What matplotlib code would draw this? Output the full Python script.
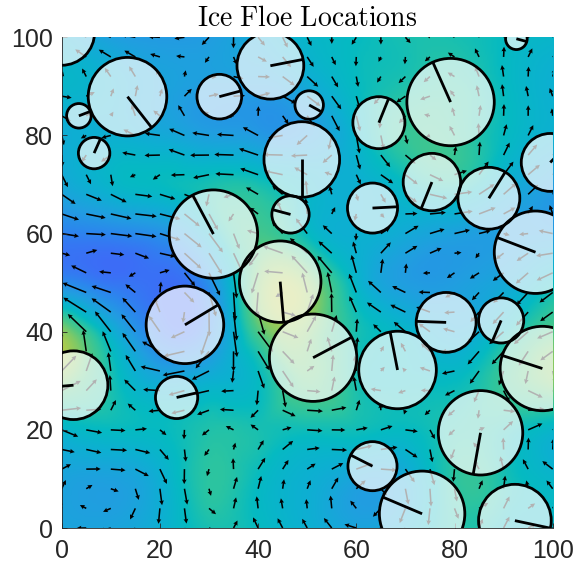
import numpy as np
import matplotlib
matplotlib.use('Agg')
import matplotlib.pyplot as plt
import matplotlib.tri as mtri
from matplotlib.colors import LinearSegmentedColormap
from matplotlib.patches import Circle

# ocean field on a 10 unit grid (rows: y = 0..100)
grid_x = np.arange(0, 101, 10)
grid_y = np.arange(0, 101, 10)
field = np.array([
    [0.35, 0.35, 0.45, 0.60, 0.55, 0.45, 0.35, 0.45, 0.62, 0.55, 0.50],
    [0.35, 0.33, 0.45, 0.65, 0.55, 0.45, 0.35, 0.40, 0.65, 0.60, 0.50],
    [0.50, 0.55, 0.55, 0.62, 0.60, 0.58, 0.58, 0.55, 0.62, 0.60, 0.50],
    [0.85, 0.60, 0.40, 0.45, 0.55, 0.78, 0.60, 0.55, 0.55, 0.70, 0.85],
    [0.88, 0.45, 0.08, 0.18, 0.75, 0.85, 0.60, 0.50, 0.40, 0.55, 0.75],
    [0.18, 0.06, 0.02, 0.22, 0.85, 0.88, 0.50, 0.30, 0.30, 0.38, 0.55],
    [0.12, 0.15, 0.22, 0.50, 0.72, 0.55, 0.45, 0.40, 0.33, 0.30, 0.30],
    [0.38, 0.50, 0.55, 0.60, 0.60, 0.50, 0.45, 0.55, 0.62, 0.45, 0.30],
    [0.42, 0.45, 0.40, 0.32, 0.28, 0.30, 0.50, 0.68, 0.68, 0.55, 0.45],
    [0.50, 0.45, 0.35, 0.30, 0.30, 0.40, 0.55, 0.62, 0.65, 0.55, 0.45],
    [0.45, 0.32, 0.28, 0.30, 0.40, 0.50, 0.55, 0.60, 0.60, 0.55, 0.50],
])

# quiver sample points
quiver_x = np.arange(0, 101, 5)
quiver_y = np.arange(0, 101, 4)

# floes: centre, radius, orientation (deg)
floe_x = [0.0, 13.4, 3.5, 6.6, 32.1, 42.5, 50.4, 48.9, 46.6, 30.9, 44.5, 25.1,
          23.4, 2.4, 51.2, 68.4, 78.3, 89.5, 97.9, 85.3, 63.3, 73.4, 92.3, 92.6,
          64.6, 79.2, 75.4, 63.3, 87.0, 99.5, 96.5]
floe_y = [101.0, 87.9, 84.0, 76.4, 87.9, 94.2, 86.2, 75.1, 63.9, 59.9, 50.2, 41.4,
          26.6, 29.1, 34.7, 32.2, 41.9, 42.3, 32.5, 19.4, 12.6, 2.9, 1.5, 99.7,
          82.6, 86.8, 70.5, 65.2, 67.2, 74.5, 56.2]
floe_r = [6.7, 8.0, 2.5, 3.2, 4.55, 6.8, 2.9, 7.7, 3.8, 9.0, 8.3, 7.9,
          4.3, 7.0, 8.9, 7.9, 6.1, 4.6, 8.6, 8.6, 5.0, 8.7, 7.4, 2.2,
          5.3, 8.9, 5.85, 5.1, 6.3, 5.9, 8.4]
floe_theta = [100, -52, 21, 66, 15, 11, -29, -90, 165, 118, -85, 31,
              13, 185, 28, 101, 178, -113, 162, -100, 153, 157, -12, -15,
              68, 114, -112, 3, 58, 45, 159]

# parula-like colours as seen in the picture
cmap = LinearSegmentedColormap.from_list('parula_part', [
    (0.00, (0.24, 0.42, 0.97)),
    (0.15, (0.17, 0.53, 0.93)),
    (0.30, (0.13, 0.62, 0.88)),
    (0.45, (0.05, 0.69, 0.82)),
    (0.55, (0.02, 0.73, 0.76)),
    (0.65, (0.17, 0.77, 0.63)),
    (0.75, (0.30, 0.78, 0.52)),
    (0.85, (0.50, 0.79, 0.40)),
    (1.00, (0.72, 0.80, 0.28)),
])

plt.rcParams['mathtext.fontset'] = 'cm'
plt.rcParams['font.family'] = ['Liberation Sans', 'DejaVu Sans']

gx, gy = np.meshgrid(grid_x, grid_y)
tri = mtri.Triangulation(gx.ravel().astype(float), gy.ravel().astype(float))
interp = mtri.CubicTriInterpolator(tri, field.ravel(), kind='min_E')

fig = plt.figure(figsize=(5.74, 5.71), dpi=100)
ax = fig.add_axes([61.7 / 574, 43 / 571, 491 / 574, 490.7 / 571])

fine = np.linspace(0.001, 99.999, 300)
fx, fy = np.meshgrid(fine, fine)
img = interp(fx, fy)
ax.imshow(img, extent=(0, 100, 0, 100), origin='lower', cmap=cmap,
          vmin=0, vmax=1, interpolation='bilinear', aspect='auto', zorder=0)

# ocean velocity: along the field contours, clockwise round the lows
qx, qy = np.meshgrid(quiver_x.astype(float), quiver_y.astype(float))
dzdx, dzdy = interp.gradient(np.clip(qx, 0.001, 99.999),
                             np.clip(qy, 0.001, 99.999))
u = np.asarray(dzdy)
v = -np.asarray(dzdx)
mag = np.hypot(u, v)
shown = mag ** 0.5
shown = shown / shown.max() * 6.0
safe = np.where(mag > 0, mag, 1)
u = u / safe * shown
v = v / safe * shown
ax.quiver(qx, qy, u, v, angles='xy', scale_units='xy', scale=1,
          color='black', width=0.0032, headwidth=3, headlength=3,
          headaxislength=2.7, minlength=0.6, zorder=1)

for x, y, r, th in zip(floe_x, floe_y, floe_r, floe_theta):
    ax.add_patch(Circle((x, y), r, facecolor='white', alpha=0.7,
                        edgecolor='none', zorder=2))
    ax.add_patch(Circle((x, y), r, facecolor='none', edgecolor='black',
                        lw=2.0, zorder=3))
    t = np.deg2rad(th)
    ax.plot([x, x + r * np.cos(t)], [y, y + r * np.sin(t)], color='black',
            lw=2.0, solid_capstyle='butt', zorder=4)

ax.set_xlim(0, 100)
ax.set_ylim(0, 100)
ax.set_xticks([0, 20, 40, 60, 80, 100])
ax.set_yticks([0, 20, 40, 60, 80, 100])
ax.tick_params(direction='in', length=3.5, width=0.6, colors='#262626',
               labelsize=18, top=False, right=False)
ax.tick_params(axis='x', pad=8)
ax.tick_params(axis='y', pad=6)
for s in ['top', 'right']:
    ax.spines[s].set_visible(False)
for s in ['left', 'bottom']:
    ax.spines[s].set_color('#262626')
    ax.spines[s].set_linewidth(0.6)

ax.set_title(r'$\mathrm{Ice\ Floe\ Locations}$', fontsize=20, pad=8)

fig.savefig('out.png', dpi=100, facecolor='white')
